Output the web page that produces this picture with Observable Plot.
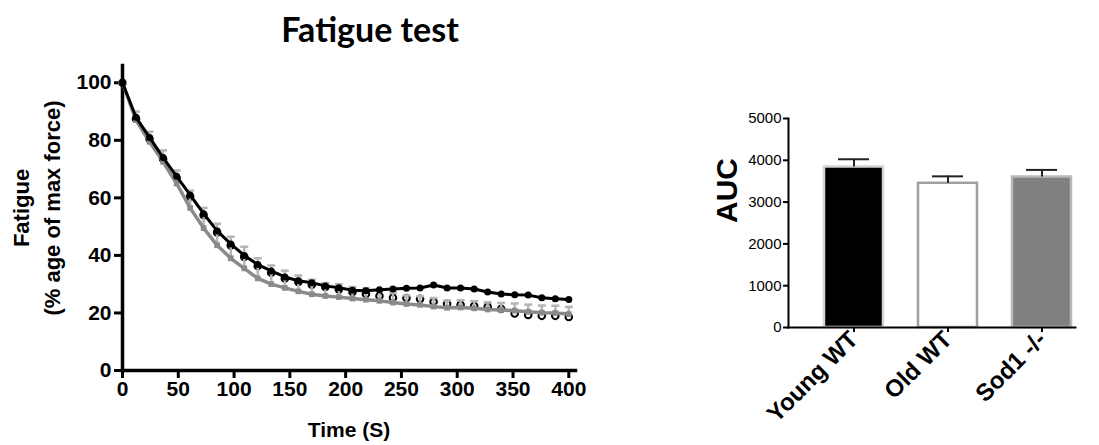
<!DOCTYPE html>
<html>
<head>
<meta charset="utf-8">
<script src="https://cdn.jsdelivr.net/npm/d3@7"></script>
<script src="https://cdn.jsdelivr.net/npm/@observablehq/plot@0.6"></script>
<style>
  html, body { margin: 0; padding: 0; background: #fff; }
  #wrap { position: relative; width: 1099px; height: 445px; overflow: hidden; background: #fff; }
  #title { position: absolute; left: 0; top: 9px; width: 740px; text-align: center;
           font-family: Lato, "Open Sans", sans-serif; font-weight: bold; font-size: 34px; line-height: 40px; color: #000; }
  #left { position: absolute; left: 0; top: 0; }
  #right { position: absolute; left: 680px; top: 0; }
</style>
</head>
<body>
<div id="wrap">
  <div id="left"></div>
  <div id="right"></div>
  <div id="title">Fatigue test</div>
</div>
<script>
// ---- Fatigue time course (seconds) ----
const times = [0, 12.1, 24.2, 36.4, 48.5, 60.6, 72.7, 84.8, 97.0, 109.1, 121.2, 133.3, 145.5, 157.6, 169.7, 181.8, 193.9,
  206.1, 218.2, 230.3, 242.4, 254.5, 266.7, 278.8, 290.9, 303.0, 315.2, 327.3, 339.4, 351.5, 363.6, 375.8, 387.9, 400];
const youngWT = [100, 88, 81, 74, 67.5, 61, 54.5, 48.5, 44, 40, 36.8, 34.6, 32.5, 31.2, 30.5, 29.4, 28.8,
  27.9, 27.7, 28.1, 28.3, 28.6, 28.7, 29.7, 28.7, 28.7, 28.3, 27.3, 26.6, 26.3, 26.2, 25.3, 24.9, 24.7];
const oldWT = [100, 87.5, 80.5, 73.5, 67, 60.5, 54, 48, 43.5, 39.5, 36.3, 34, 32, 30.8, 29.8, 29, 28.2,
  27.3, 26.6, 25.9, 25.3, 25.2, 24.9, 23.9, 23.2, 22.8, 22.4, 22.1, 21.4, 19.8, 19.3, 19, 19, 18.6];
const sod1 = [100, 87, 79.5, 72.5, 65, 56.5, 49.5, 43.5, 39, 35.5, 32, 30, 28.7, 27.5, 26.5, 25.9, 25.5,
  25, 24.6, 24.2, 23.6, 23.1, 22.8, 22.2, 21.8, 21.9, 21.6, 21.2, 21, 20.8, 20.4, 20.1, 20, 19.6];
const sod1Err = [0, 3, 3.5, 4, 4.5, 6, 7, 7.5, 7.5, 7.5, 7, 6.5, 6, 5.5, 5, 4.5, 4.5,
  4, 4, 3.5, 3.5, 3, 3, 3, 2.5, 2.5, 2.5, 2.5, 2.5, 2.5, 2.5, 2.5, 2.5, 2.5];
const xTicks = [0, 50, 100, 150, 200, 250, 300, 350, 400];
const yTicks = [0, 20, 40, 60, 80, 100];

// ---- AUC bar chart ----
const groups = ["Young WT", "Old WT", "Sod1 -/-"];
const auc = [3840, 3450, 3600];
const aucErr = [185, 166, 170];
const barFill = ["#000000", "#ffffff", "#808080"];
const barStroke = ["#d4d4d4", "#a0a0a0", "#b8b8b8"];
const aucTicks = [0, 1000, 2000, 3000, 4000, 5000];

const rows = times.map((t, i) => ({t, young: youngWT[i], old: oldWT[i], sod: sod1[i], err: sod1Err[i]}));
const cap = {draw(ctx, size) { const w = Math.sqrt(size / Math.PI); ctx.moveTo(-w, 0); ctx.lineTo(w, 0); }};
const errColor = "#b5b5b5";
const grayLine = "#8a8a8a";

const left = Plot.plot({
  width: 600, height: 445,
  marginLeft: 122, marginRight: 25, marginTop: 65, marginBottom: 75,
  x: {domain: [0, 406]},
  y: {domain: [0, 106]},
  style: {fontFamily: "'Liberation Sans', Arial, sans-serif", fontSize: "21px", fontWeight: "bold", color: "#000", background: "transparent", overflow: "visible"},
  marks: [
    Plot.axisY({ticks: yTicks, tickSize: 8, tickPadding: 3, strokeWidth: 3, label: null}),
    Plot.axisX({ticks: xTicks, tickSize: 8, tickPadding: 3, strokeWidth: 3, label: null}),
    Plot.frame({anchor: "left", strokeWidth: 3.5}),
    Plot.frame({anchor: "bottom", strokeWidth: 3.5}),
    // Old WT: open circles
    Plot.dot(rows, {x: "t", y: "old", r: 3.3, stroke: "#000", strokeWidth: 2, fill: "#fff"}),
    // Sod1 -/-: gray with upward error bars
    Plot.ruleX(rows, {x: "t", y1: "sod", y2: d => d.sod + d.err, stroke: errColor, strokeWidth: 2.5}),
    Plot.dot(rows, {x: "t", y: d => d.sod + d.err, symbol: cap, r: 4, stroke: errColor, strokeWidth: 2.5}),
    Plot.line(rows, {x: "t", y: "sod", stroke: grayLine, strokeWidth: 3.5}),
    Plot.dot(rows, {x: "t", y: "sod", symbol: "square", r: 3.2, fill: grayLine}),
    // Young WT: black filled
    Plot.line(rows, {x: "t", y: "young", stroke: "#000", strokeWidth: 3}),
    Plot.dot(rows, {x: "t", y: "young", r: 3.5, fill: "#000"}),
    // axis titles
    Plot.text(["Fatigue\n(% age of max force)"], {frameAnchor: "left", text: d => d, rotate: -90, dx: -88, dy: -10,
      textAnchor: "middle", lineAnchor: "middle", lineHeight: 1.4, fontSize: 22, fontWeight: "bold"}),
    Plot.text(["Time (S)"], {frameAnchor: "bottom", text: d => d, dy: 60, lineAnchor: "middle", fontSize: 21, fontWeight: "bold"})
  ]
});
document.getElementById("left").appendChild(left);

const bars = groups.map((g, i) => ({g, v: auc[i], e: aucErr[i], fill: barFill[i], stroke: barStroke[i]}));
const right = Plot.plot({
  width: 419, height: 445,
  marginLeft: 108, marginRight: 24, marginTop: 118, marginBottom: 118,
  x: {type: "band", domain: groups, paddingInner: 0.376, paddingOuter: 0.206, align: 0.9},
  y: {domain: [0, 5000]},
  color: {type: "identity"},
  style: {fontFamily: "'Liberation Sans', Arial, sans-serif", fontSize: "15px", color: "#000", background: "transparent", overflow: "visible"},
  marks: [
    Plot.barY(bars, {x: "g", y: "v", fill: "fill", stroke: "stroke", strokeWidth: 2.5}),
    Plot.ruleX(bars, {x: "g", y1: "v", y2: d => d.v + d.e, stroke: "#222", strokeWidth: 2}),
    Plot.tickY(bars, {x: "g", y: d => d.v + d.e, stroke: "#222", strokeWidth: 2, insetLeft: 14, insetRight: 14}),
    Plot.axisY({ticks: aucTicks, tickFormat: d => String(d), tickSize: 5, tickPadding: 2, strokeWidth: 2, label: null, fontSize: 15}),
    Plot.axisX({tickSize: 5, tickPadding: 3, strokeWidth: 2, tickRotate: -45, label: null, fontSize: 24, fontWeight: "bold"}),
    Plot.frame({anchor: "left", strokeWidth: 2}),
    Plot.frame({anchor: "bottom", strokeWidth: 2}),
    Plot.text(["AUC"], {frameAnchor: "left", text: d => d, rotate: -90, dx: -61, fontSize: 30, fontWeight: "bold"})
  ]
});
document.getElementById("right").appendChild(right);
</script>
</body>
</html>
